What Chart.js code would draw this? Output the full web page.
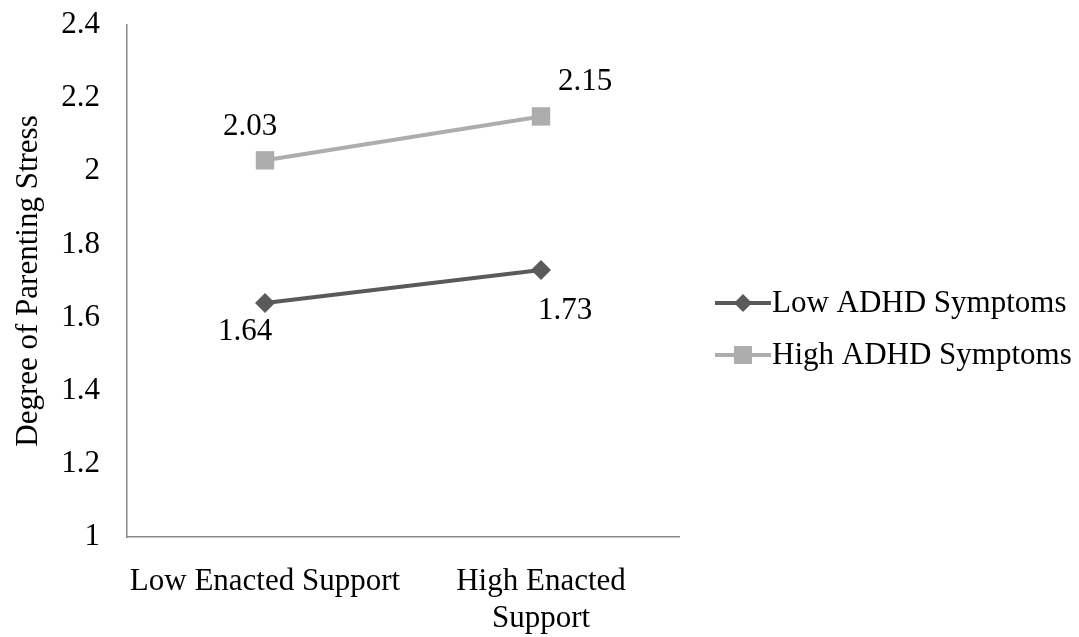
<!DOCTYPE html>
<html>
<head>
<meta charset="utf-8">
<script src="https://cdn.jsdelivr.net/npm/chart.js@4"></script>
<style>
  html, body { margin: 0; padding: 0; background: #fff; }
  #wrap { width: 1079px; height: 637px; }
</style>
</head>
<body>
<div id="wrap"><canvas id="chart" width="1079" height="637"></canvas></div>
<script>
const categories = ['Low Enacted Support', ['High Enacted', 'Support']];
const lowAdhd = [1.64, 1.73];
const highAdhd = [2.03, 2.15];
const seriesNames = ['Low ADHD Symptoms', 'High ADHD Symptoms'];
const yTicks = [1, 1.2, 1.4, 1.6, 1.8, 2, 2.2, 2.4];

const FONT = '"Liberation Serif", "Times New Roman", serif';
const FS = 31;
const darkGray = '#5a5a5a';
const lightGray = '#adadad';

// where each value label sits relative to its point (px)
const labelOffsets = [
  [[-20, 29], [24, 41]],
  [[-15, -33], [44, -35]]
];

const valueLabels = {
  id: 'valueLabels',
  afterDatasetsDraw(chart) {
    const ctx = chart.ctx;
    ctx.save();
    ctx.font = FS + 'px ' + FONT;
    ctx.fillStyle = '#000';
    ctx.textAlign = 'center';
    ctx.textBaseline = 'middle';
    chart.data.datasets.forEach((ds, i) => {
      chart.getDatasetMeta(i).data.forEach((pt, j) => {
        const off = labelOffsets[i][j];
        ctx.fillText(ds.data[j].toFixed(2), pt.x + off[0], pt.y + off[1]);
      });
    });
    ctx.restore();
  }
};

const sideLegend = {
  id: 'sideLegend',
  afterDraw(chart) {
    const ctx = chart.ctx;
    const x0 = 715, y0 = 303, gap = 52;
    ctx.save();
    chart.data.datasets.forEach((ds, i) => {
      const y = y0 + i * gap;
      ctx.strokeStyle = ds.borderColor;
      ctx.lineWidth = 4;
      ctx.beginPath();
      ctx.moveTo(x0, y);
      ctx.lineTo(x0 + 56, y);
      ctx.stroke();
      ctx.fillStyle = ds.borderColor;
      ctx.beginPath();
      if (ds.pointStyle === 'rectRot') {
        ctx.moveTo(x0 + 28, y - 9);
        ctx.lineTo(x0 + 37, y);
        ctx.lineTo(x0 + 28, y + 9);
        ctx.lineTo(x0 + 19, y);
        ctx.closePath();
      } else {
        ctx.rect(x0 + 19, y - 9, 18, 18);
      }
      ctx.fill();
      ctx.fillStyle = '#000';
      ctx.font = FS + 'px ' + FONT;
      ctx.textAlign = 'left';
      ctx.textBaseline = 'middle';
      ctx.fillText(ds.label, x0 + 57, y + 1);
    });
    ctx.restore();
  }
};

new Chart(document.getElementById('chart'), {
  type: 'line',
  data: {
    labels: categories,
    datasets: [
      {
        label: seriesNames[0],
        data: lowAdhd,
        borderColor: darkGray,
        backgroundColor: darkGray,
        borderWidth: 4,
        pointStyle: 'rectRot',
        pointRadius: 10,
        pointBorderWidth: 0
      },
      {
        label: seriesNames[1],
        data: highAdhd,
        borderColor: lightGray,
        backgroundColor: lightGray,
        borderWidth: 4,
        pointStyle: 'rect',
        pointRadius: 13,
        pointBorderWidth: 0
      }
    ]
  },
  options: {
    responsive: false,
    animation: false,
    layout: { autoPadding: false, padding: { left: 0, top: 25, right: 400, bottom: 0 } },
    plugins: {
      legend: { display: false },
      tooltip: { enabled: false }
    },
    scales: {
      x: {
        offset: true,
        grid: { display: false, drawTicks: false },
        border: { display: true, color: '#888', width: 1.5 },
        ticks: {
          color: '#000',
          font: { family: FONT, size: FS, lineHeight: 1.2 },
          padding: 26,
          maxRotation: 0
        },
        afterFit(scale) { scale.height = 100; }
      },
      y: {
        min: 1,
        max: 2.4,
        afterBuildTicks(scale) { scale.ticks = yTicks.map(v => ({ value: v })); },
        grid: { display: false, drawTicks: false },
        border: { display: true, color: '#888', width: 1.5 },
        ticks: {
          color: '#000',
          font: { family: FONT, size: FS },
          padding: 27,
          callback: v => String(Math.round(v * 10) / 10)
        },
        title: {
          display: true,
          text: 'Degree of Parenting Stress',
          color: '#000',
          font: { family: FONT, size: FS },
          padding: { top: 10, bottom: 0 }
        },
        afterFit(scale) {
          scale.width = 127;
          scale.paddingTop = 0;
          scale.paddingBottom = 0;
        }
      }
    }
  },
  plugins: [valueLabels, sideLegend]
});
</script>
</body>
</html>
